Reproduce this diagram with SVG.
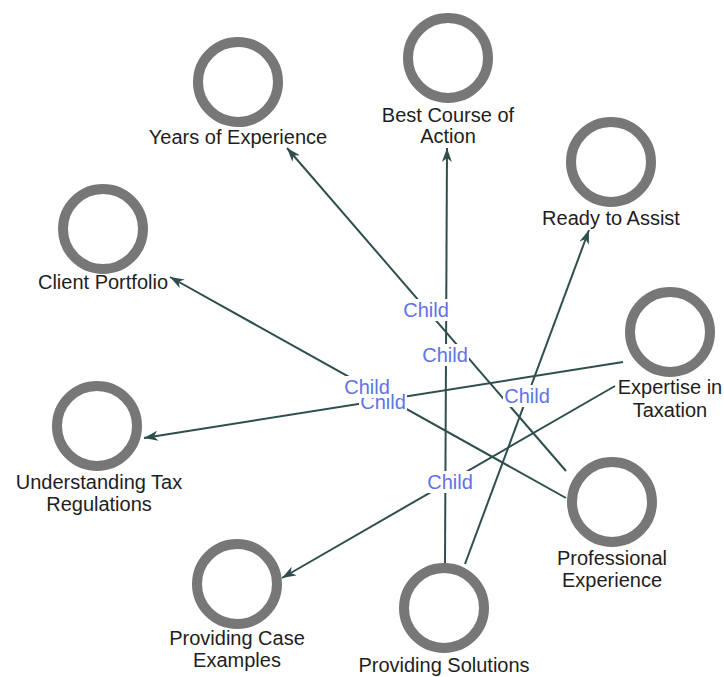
<svg xmlns="http://www.w3.org/2000/svg" width="724" height="677" viewBox="0 0 724 677">
<defs>
<marker id="arr" markerUnits="userSpaceOnUse" markerWidth="16" markerHeight="12" refX="14" refY="5" orient="auto">
<path d="M0,0 L14,5 L0,10 L4,5 z" fill="#2f4f4f"/>
</marker>
<style>
.n circle{fill:none;stroke:#777777;stroke-width:10}
.n text{font-family:"Liberation Sans",Arial,sans-serif;font-size:20px;fill:#1e1e1e;text-anchor:middle}
.e line{stroke:#2f4f4f;stroke-width:2;marker-end:url(#arr)}
.l rect{fill:#ffffff}
.l text{font-family:"Liberation Sans",Arial,sans-serif;font-size:20px;fill:#6272e6;text-anchor:middle}
</style>
</defs>
<rect width="724" height="677" fill="#ffffff"/>
<g id="connectors" class="e">
<line x1="566" y1="471" x2="287" y2="148"/>
<line x1="566" y1="498" x2="170" y2="277"/>
<line x1="445" y1="564" x2="447" y2="148"/>
<line x1="465" y1="564" x2="589" y2="230"/>
<line x1="623" y1="362" x2="144" y2="438"/>
<line x1="615" y1="386" x2="282" y2="578"/>
</g>
<g id="edge-labels" class="l">
<rect x="402" y="299" width="48" height="22"/><text x="426" y="317">Child</text>
<rect x="421" y="344" width="48" height="22"/><text x="445" y="362">Child</text>
<rect x="503" y="385" width="48" height="22"/><text x="527" y="403">Child</text>
<rect x="426" y="471" width="48" height="22"/><text x="450" y="489">Child</text>
<rect x="359" y="391" width="48" height="22"/><text x="383" y="409">Child</text>
<rect x="343" y="376" width="48" height="22"/><text x="367" y="394">Child</text>
</g>
<g id="years-of-experience" class="n"><circle cx="238" cy="82" r="40"/><text x="238" y="144">Years of Experience</text></g>
<g id="best-course-of-action" class="n"><circle cx="448" cy="58" r="40"/><text x="448" y="122">Best Course of</text><text x="448" y="143">Action</text></g>
<g id="ready-to-assist" class="n"><circle cx="611" cy="162" r="40"/><text x="611" y="225">Ready to Assist</text></g>
<g id="client-portfolio" class="n"><circle cx="103" cy="229" r="40"/><text x="103" y="289">Client Portfolio</text></g>
<g id="expertise-in-taxation" class="n"><circle cx="670" cy="332" r="40"/><text x="670" y="394">Expertise in</text><text x="670" y="417">Taxation</text></g>
<g id="understanding-tax-regulations" class="n"><circle cx="97" cy="426" r="40"/><text x="99" y="489">Understanding Tax</text><text x="99" y="511">Regulations</text></g>
<g id="professional-experience" class="n"><circle cx="612" cy="502" r="40"/><text x="612" y="565">Professional</text><text x="612" y="587">Experience</text></g>
<g id="providing-case-examples" class="n"><circle cx="237" cy="584" r="40"/><text x="237" y="645">Providing Case</text><text x="237" y="667">Examples</text></g>
<g id="providing-solutions" class="n"><circle cx="444" cy="608" r="40"/><text x="444" y="672">Providing Solutions</text></g>
</svg>
